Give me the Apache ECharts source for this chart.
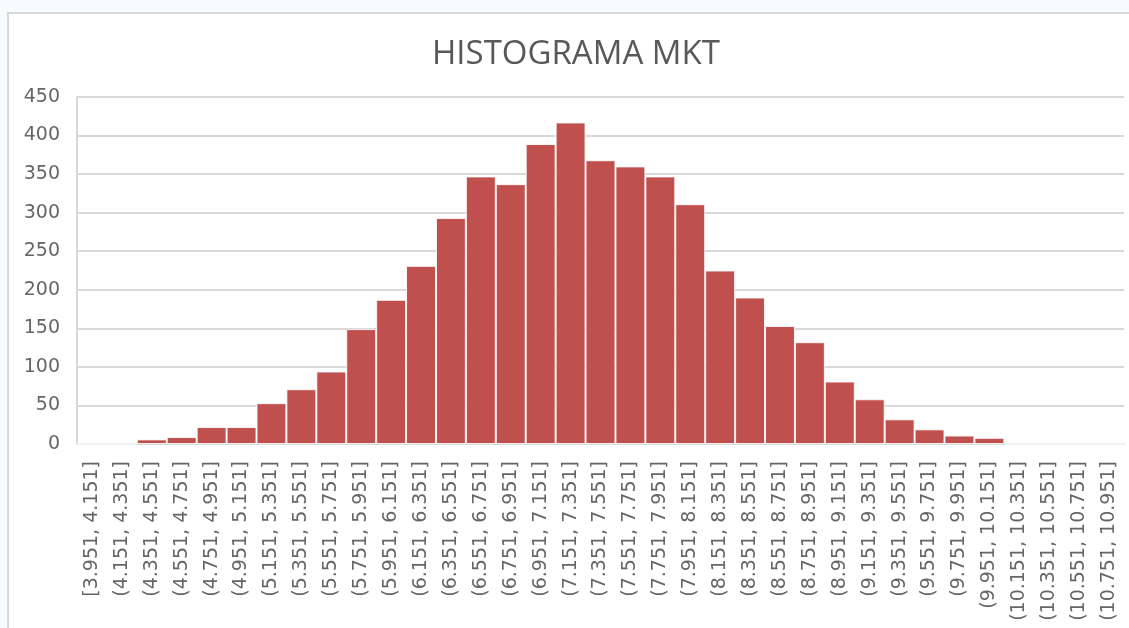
<!DOCTYPE html>
<html>
<head>
<meta charset="utf-8">
<script src="https://cdn.jsdelivr.net/npm/echarts@6/dist/echarts.min.js"></script>
<style>
  html, body { margin: 0; padding: 0; background: #f8fbfd; }
  #container { width: 1129px; height: 628px; }
</style>
</head>
<body>
<div id="container"></div>
<script>
// bin labels
var bins = [
  "[3.951, 4.151]", "(4.151, 4.351]", "(4.351, 4.551]", "(4.551, 4.751]", "(4.751, 4.951]",
  "(4.951, 5.151]", "(5.151, 5.351]", "(5.351, 5.551]", "(5.551, 5.751]", "(5.751, 5.951]",
  "(5.951, 6.151]", "(6.151, 6.351]", "(6.351, 6.551]", "(6.551, 6.751]", "(6.751, 6.951]",
  "(6.951, 7.151]", "(7.151, 7.351]", "(7.351, 7.551]", "(7.551, 7.751]", "(7.751, 7.951]",
  "(7.951, 8.151]", "(8.151, 8.351]", "(8.351, 8.551]", "(8.551, 8.751]", "(8.751, 8.951]",
  "(8.951, 9.151]", "(9.151, 9.351]", "(9.351, 9.551]", "(9.551, 9.751]", "(9.751, 9.951]",
  "(9.951, 10.151]", "(10.151, 10.351]", "(10.351, 10.551]", "(10.551, 10.751]", "(10.751, 10.951]"
];
// frequencies per bin
var counts = [
  0, 0, 6, 9, 22, 22, 53, 71, 94, 149,
  187, 231, 293, 347, 337, 389, 417, 368, 360, 347,
  311, 225, 190, 153, 132, 81, 58, 32, 19, 11,
  8, 0, 0, 0, 0
];
var yMin = 0;
var yMax = 450;
var yStep = 50;

var myChart = echarts.init(document.getElementById("container"));
myChart.setOption({
  backgroundColor: "#f8fbfd",
  textStyle: { fontFamily: "DejaVu Sans" },
  graphic: [
    {
      type: "rect",
      z: -10,
      shape: { x: 8, y: 13, width: 1200, height: 700 },
      style: { fill: "#ffffff", stroke: "#d9d9d9", lineWidth: 2 }
    }
  ],
  title: {
    text: "HISTOGRAMA MKT",
    left: 427,
    top: 33,
    textStyle: {
      fontFamily: "Open Sans",
      fontSize: 33,
      fontWeight: "normal",
      color: "#595959"
    }
  },
  grid: {
    left: 77,
    right: 5,
    top: 97,
    bottom: 184
  },
  xAxis: {
    type: "category",
    data: bins,
    axisTick: { show: false },
    axisLine: { lineStyle: { color: "#d9d9d9", width: 2 } },
    axisLabel: {
      interval: 0,
      rotate: 90,
      margin: 17,
      fontSize: 19,
      color: "#666666"
    }
  },
  yAxis: {
    type: "value",
    min: yMin,
    max: yMax,
    interval: yStep,
    axisLine: { show: true, lineStyle: { color: "#d9d9d9", width: 2 } },
    axisTick: { show: false },
    axisLabel: {
      margin: 17,
      fontSize: 19,
      color: "#666666"
    },
    splitLine: {
      show: true,
      lineStyle: { color: "#d9d9d9", width: 2 }
    }
  },
  series: [
    {
      name: "MKT",
      type: "bar",
      data: counts,
      barCategoryGap: "0%",
      itemStyle: {
        color: "#c0504d",
        borderColor: "rgba(255,255,255,0.85)",
        borderWidth: 1
      }
    }
  ]
});
</script>
</body>
</html>
